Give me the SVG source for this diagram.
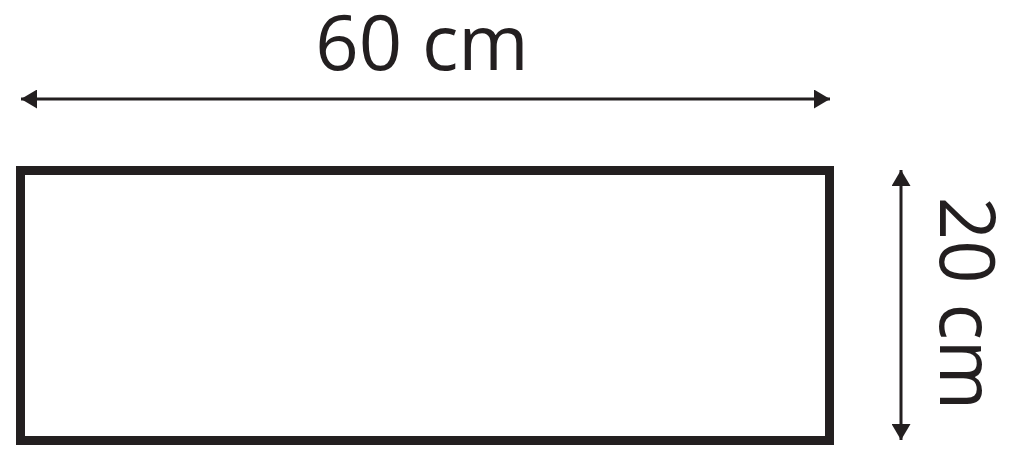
<svg xmlns="http://www.w3.org/2000/svg" width="1020" height="461" viewBox="0 0 1020 461">
<style>
.ln{stroke:#231f20;stroke-width:3;fill:none}
.lbl{font-family:"Open Sans","Noto Sans",sans-serif;font-size:76px;fill:#231f20;text-anchor:middle}
</style>
<defs>
<marker id="ah" viewBox="0 0 16 19" refX="16" refY="9.5" markerWidth="16" markerHeight="19" markerUnits="userSpaceOnUse" orient="auto-start-reverse">
<path d="M0,0 L16,9.5 L0,19 Z" fill="#231f20"/>
</marker>
</defs>
<rect width="1020" height="461" fill="#fff"/>
<g id="panel">
<rect x="20.5" y="170.5" width="809" height="270" fill="none" stroke="#231f20" stroke-width="9"/>
</g>
<g id="connectors">
<line class="ln" x1="21" y1="99" x2="830" y2="99" marker-start="url(#ah)" marker-end="url(#ah)"/>
<line class="ln" x1="901" y1="170" x2="901" y2="440" marker-start="url(#ah)" marker-end="url(#ah)"/>
</g>
<g id="label-width">
<text class="lbl" x="422" y="70">60 cm</text>
</g>
<g id="label-height">
<text class="lbl" transform="translate(940,303.5) rotate(90)">20 cm</text>
</g>
</svg>
